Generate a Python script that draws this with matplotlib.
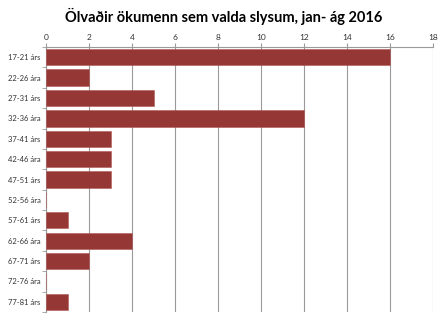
import matplotlib.pyplot as plt

categories = ["17-21 árs", "22-26 ára", "27-31 árs", "32-36 ára", "37-41 árs",
              "42-46 ára", "47-51 árs", "52-56 ára", "57-61 árs", "62-66 ára",
              "67-71 árs", "72-76 ára", "77-81 árs"]
values = [16, 2, 5, 12, 3, 3, 3, 0, 1, 4, 2, 0, 1]
xticks = [0, 2, 4, 6, 8, 10, 12, 14, 16, 18]

plt.rcParams['font.family'] = ['Lato', 'DejaVu Sans']

fig = plt.figure(figsize=(4.48, 3.22), dpi=100)
ax = fig.add_axes([0.103, 0.031, 0.864, 0.823])

pos = list(range(len(categories)))
ax.barh(pos, values, height=0.8, color='#953735', edgecolor='#b05a58',
        linewidth=0.4, zorder=3)

ax.set_xlim(0, 18)
ax.set_ylim(len(categories) - 0.5, -0.5)
ax.set_xticks(xticks)
ax.xaxis.tick_top()
ax.tick_params(axis='x', length=3, color='#9a9a9a', labelsize=6, pad=1, labelcolor='#333333')
ax.grid(axis='x', color='#9a9a9a', linewidth=0.8, zorder=0)

ax.set_yticks(pos)
ax.set_yticklabels(categories)
ax.set_yticks([p + 0.5 for p in [-1] + pos], minor=True)
ax.tick_params(axis='y', which='major', length=0, labelsize=5.5, pad=4, labelcolor='#333333')
ax.tick_params(axis='y', which='minor', length=3, color='#9a9a9a')

for s in ['right', 'bottom']:
    ax.spines[s].set_visible(False)
for s in ['left', 'top']:
    ax.spines[s].set_color('#9a9a9a')
    ax.spines[s].set_linewidth(0.8)

fig.text(0.5, 0.95, 'Ölvaðir ökumenn sem valda slysum, jan- ág 2016',
         ha='center', va='center', fontsize=10.5, fontweight='bold')

plt.savefig("out.png", dpi=100)
